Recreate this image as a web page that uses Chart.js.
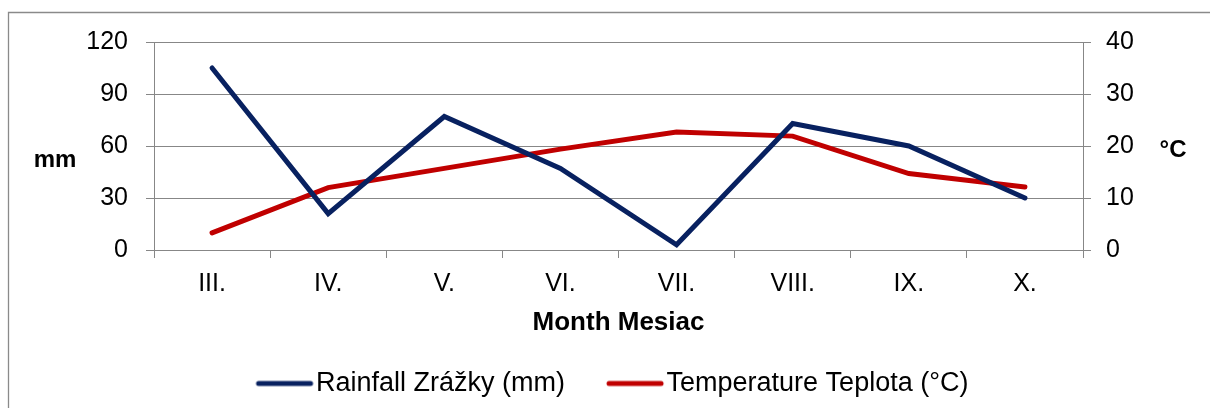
<!DOCTYPE html>
<html>
<head>
<meta charset="utf-8">
<script src="https://cdn.jsdelivr.net/npm/chart.js@4"></script>
<style>
  html, body { margin: 0; padding: 0; background: #fff; }
  #wrap { width: 1210px; height: 408px; position: relative; }
</style>
</head>
<body>
<div id="wrap"><canvas id="climateChart"></canvas></div>
<script>
// Data
const months = ["III.", "IV.", "V.", "VI.", "VII.", "VIII.", "IX.", "X."];
const rainfall = [105, 21, 77, 47, 3, 73, 60, 30];
const temperature = [3.3, 12, 15.7, 19.4, 22.7, 21.9, 14.7, 12.1];
const rainTicks = [0, 30, 60, 90, 120];
const tempTicks = [0, 10, 20, 30, 40];

const BLUE = "#082160";
const RED = "#c00000";
const GRID = "#878787";
const FONT = "'Liberation Sans', Arial, sans-serif";

// legend swatch: a short thick line, a bit wider than the legend box
function legendLine(color) {
  const c = document.createElement("canvas");
  c.width = 62;
  c.height = 8;
  const g = c.getContext("2d");
  g.strokeStyle = color;
  g.lineWidth = 5;
  g.lineCap = "round";
  g.beginPath();
  g.moveTo(5, 4);
  g.lineTo(57, 4);
  g.stroke();
  return c;
}

// outer frame + horizontal axis unit labels
const decorations = {
  id: "decorations",
  beforeDraw(chart) {
    const ctx = chart.ctx;
    ctx.save();
    ctx.strokeStyle = "#8a8a8a";
    ctx.lineWidth = 1.3;
    ctx.beginPath();
    ctx.moveTo(8.5, 408);
    ctx.lineTo(8.5, 12.5);
    ctx.lineTo(1210, 12.5);
    ctx.stroke();
    ctx.restore();
  },
  afterDraw(chart) {
    const ctx = chart.ctx;
    ctx.save();
    ctx.fillStyle = "#000";
    ctx.font = "bold 24px " + FONT;
    ctx.textAlign = "center";
    ctx.textBaseline = "alphabetic";
    ctx.fillText("mm", 55, 167);
    ctx.fillText("°C", 1173, 157);
    ctx.restore();
  },
};

new Chart(document.getElementById("climateChart"), {
  type: "line",
  data: {
    labels: months,
    datasets: [
      {
        label: "Rainfall Zrážky (mm)",
        data: rainfall,
        yAxisID: "yRain",
        borderColor: BLUE,
        backgroundColor: BLUE,
        borderWidth: 5,
        borderJoinStyle: "miter",
        borderCapStyle: "round",
        pointRadius: 0,
        pointHoverRadius: 0,
        pointStyle: legendLine(BLUE),
        tension: 0,
      },
      {
        label: "Temperature Teplota (°C)",
        data: temperature,
        yAxisID: "yTemp",
        borderColor: RED,
        backgroundColor: RED,
        borderWidth: 5,
        borderJoinStyle: "miter",
        borderCapStyle: "round",
        pointRadius: 0,
        pointHoverRadius: 0,
        pointStyle: legendLine(RED),
        tension: 0,
      },
    ],
  },
  options: {
    responsive: true,
    maintainAspectRatio: false,
    animation: false,
    layout: {
      padding: { top: 42, left: 25, right: 0, bottom: 1 },
    },
    plugins: {
      tooltip: { enabled: false },
      legend: {
        position: "bottom",
        labels: {
          usePointStyle: true,
          pointStyleWidth: 36,
          boxHeight: 8,
          padding: 52,
          color: "#000",
          font: { family: FONT, size: 27 },
        },
      },
    },
    scales: {
      x: {
        offset: true,
        grid: {
          offset: true,
          drawOnChartArea: false,
          color: GRID,
          tickLength: 8,
        },
        border: { color: GRID, width: 1 },
        ticks: {
          color: "#000",
          padding: 11,
          font: { family: FONT, size: 25 },
        },
        title: {
          display: true,
          text: "Month Mesiac",
          color: "#000",
          padding: { top: 0, bottom: -20.6 },
          font: { family: FONT, size: 26, weight: "bold" },
        },
        afterFit(scale) {
          scale.height = 68;
        },
      },
      yRain: {
        position: "left",
        min: 0,
        max: 120,
        afterBuildTicks(scale) {
          scale.ticks = rainTicks.map((v) => ({ value: v }));
        },
        grid: { color: GRID, tickLength: 8 },
        border: { color: GRID, width: 1 },
        ticks: {
          color: "#000",
          padding: 18,
          font: { family: FONT, size: 25 },
        },
        afterFit(scale) {
          scale.width = 129;
        },
      },
      yTemp: {
        position: "right",
        min: 0,
        max: 40,
        afterBuildTicks(scale) {
          scale.ticks = tempTicks.map((v) => ({ value: v }));
        },
        grid: { drawOnChartArea: false, color: GRID, tickLength: 8 },
        border: { color: GRID, width: 1 },
        ticks: {
          color: "#000",
          padding: 15,
          font: { family: FONT, size: 25 },
        },
        afterFit(scale) {
          scale.width = 127;
        },
      },
    },
  },
  plugins: [decorations],
});
</script>
</body>
</html>
